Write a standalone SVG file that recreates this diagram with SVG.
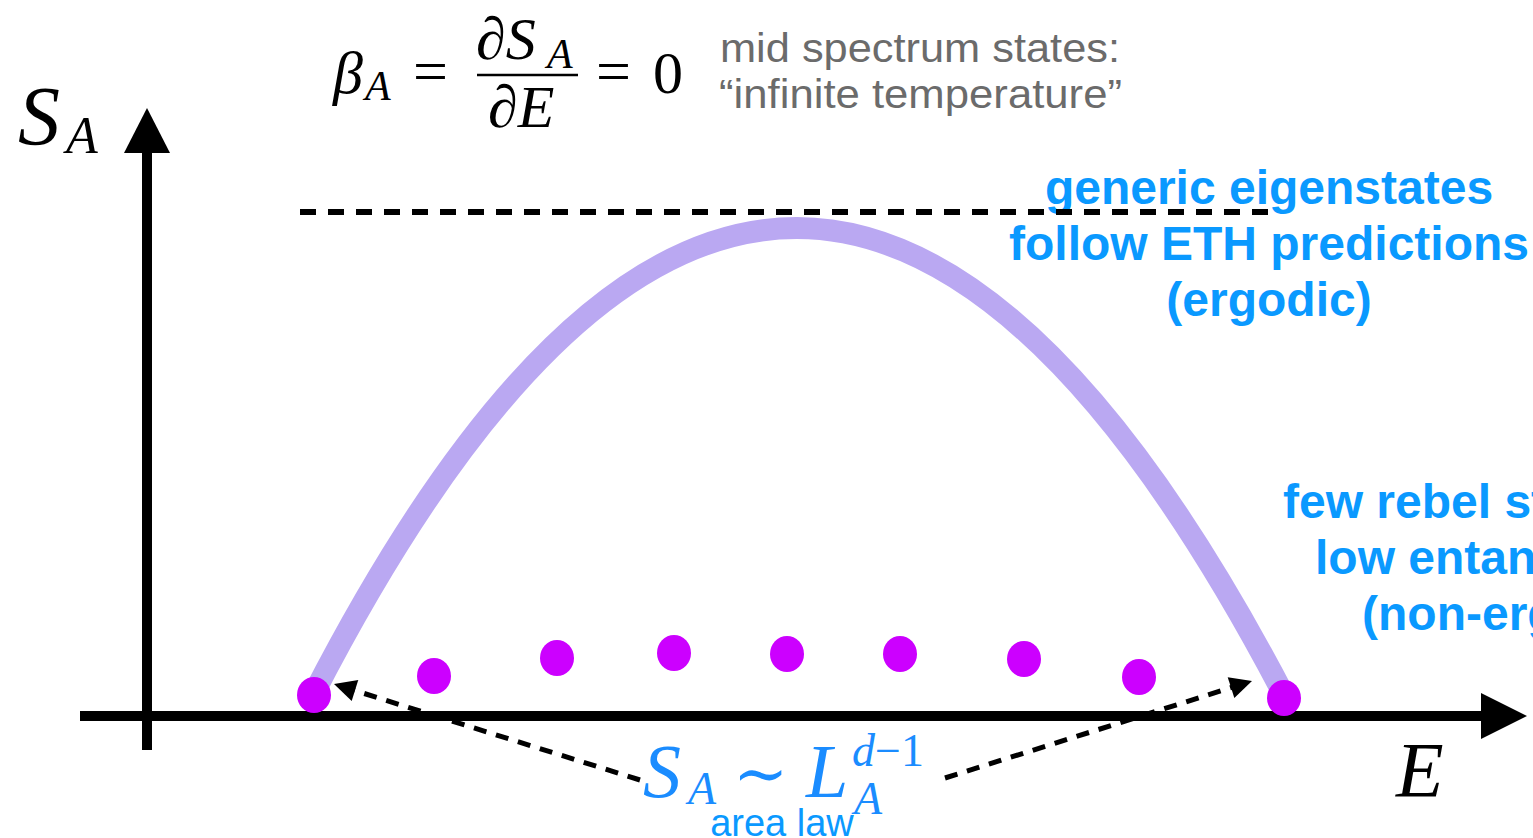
<svg xmlns="http://www.w3.org/2000/svg" width="1533" height="838" viewBox="0 0 1533 838">
<style>
.math{font-family:"Liberation Serif","DejaVu Serif",serif;font-style:italic}
.rm{font-family:"Liberation Serif","DejaVu Serif",serif}
.blue{font-family:"Liberation Sans",Arial,sans-serif;font-weight:bold;fill:#0a99ff;font-size:48px}
.grey{font-family:"Liberation Sans",Arial,sans-serif;fill:#6b6b6b;font-size:41px}
.dot{fill:#cc00ff}
.dash{stroke:#000;stroke-width:5;stroke-dasharray:13 10;fill:none}
.am{fill:#1a8cff}
</style>
<defs>
<marker id="ah" viewBox="0 0 10 10" refX="10" refY="5" markerWidth="26" markerHeight="22" markerUnits="userSpaceOnUse" orient="auto">
<path d="M0,0 L10,5 L0,10 z" fill="#000"/>
</marker>
</defs>
<rect width="1533" height="838" fill="#fff"/>
<g id="axes">
<line x1="147" y1="750" x2="147" y2="148" stroke="#000" stroke-width="10"/>
<polygon points="147,108 124,153 170,153" fill="#000"/>
<line x1="80" y1="716" x2="1485" y2="716" stroke="#000" stroke-width="10"/>
<polygon points="1527,716 1481,693 1481,739" fill="#000"/>
<text class="math" x="18" y="145" font-size="84">S</text>
<text class="math" x="66" y="153" font-size="52">A</text>
<text class="math" x="1396" y="796" font-size="78">E</text>
</g>
<g id="formula">
<text class="math" x="333" y="93" font-size="60">β</text>
<text class="math" x="365" y="100" font-size="42">A</text>
<text class="rm" x="413" y="92" font-size="62">=</text>
<text class="math" x="476" y="59" font-size="60">∂S</text>
<text class="math" x="547" y="68" font-size="42">A</text>
<line x1="477" y1="75" x2="578" y2="75" stroke="#000" stroke-width="2.5"/>
<text class="math" x="488" y="127" font-size="60">∂E</text>
<text class="rm" x="596" y="92" font-size="62">=</text>
<text class="rm" x="653" y="93" font-size="60">0</text>
</g>
<g id="note">
<text class="grey" x="720" y="62" textLength="400" lengthAdjust="spacingAndGlyphs">mid spectrum states:</text>
<text class="grey" x="719" y="108" textLength="403" lengthAdjust="spacingAndGlyphs">“infinite temperature”</text>
</g>
<g id="curve">
<path d="M313,695 Q795,-240 1285,697" fill="none" stroke="#baa8f2" stroke-width="22"/>
</g>
<g id="ergodic-label">
<text class="blue" text-anchor="middle" x="1269" y="204">generic eigenstates</text>
<text class="blue" text-anchor="middle" x="1269" y="260">follow ETH predictions</text>
<text class="blue" text-anchor="middle" x="1269" y="316">(ergodic)</text>
</g>
<g id="rebel-label">
<text class="blue" x="1283" y="518">few rebel st</text>
<text class="blue" x="1315" y="574">low entan</text>
<text class="blue" x="1362" y="630">(non-erg</text>
</g>
<g id="connectors">
<line x1="300" y1="212" x2="1280" y2="212" stroke="#000" stroke-width="6" stroke-dasharray="16 12"/>
<line class="dash" x1="640" y1="780" x2="334" y2="684" marker-end="url(#ah)"/>
<line class="dash" x1="945" y1="778" x2="1252" y2="681" marker-end="url(#ah)"/>
</g>
<g id="dots">
<ellipse class="dot" cx="314" cy="695" rx="17" ry="18"/>
<ellipse class="dot" cx="434" cy="676" rx="17" ry="18"/>
<ellipse class="dot" cx="557" cy="658" rx="17" ry="18"/>
<ellipse class="dot" cx="674" cy="653" rx="17" ry="18"/>
<ellipse class="dot" cx="787" cy="654" rx="17" ry="18"/>
<ellipse class="dot" cx="900" cy="654" rx="17" ry="18"/>
<ellipse class="dot" cx="1024" cy="659" rx="17" ry="18"/>
<ellipse class="dot" cx="1139" cy="677" rx="17" ry="18"/>
<ellipse class="dot" cx="1284" cy="698" rx="17" ry="18"/>
</g>
<g id="area-law">
<text class="math am" x="643" y="797" font-size="76">S</text>
<text class="math am" x="688" y="804" font-size="46">A</text>
<text class="rm am" x="733" y="796" font-size="66">∼</text>
<text class="math am" x="806" y="797" font-size="76">L</text>
<text class="math am" x="852" y="766" font-size="46">d<tspan font-style="normal">−1</tspan></text>
<text class="math am" x="854" y="814" font-size="46">A</text>
<text x="782" y="836" text-anchor="middle" font-family="Liberation Sans, Arial, sans-serif" font-size="38" fill="#0a99ff">area law</text>
</g>
</svg>
